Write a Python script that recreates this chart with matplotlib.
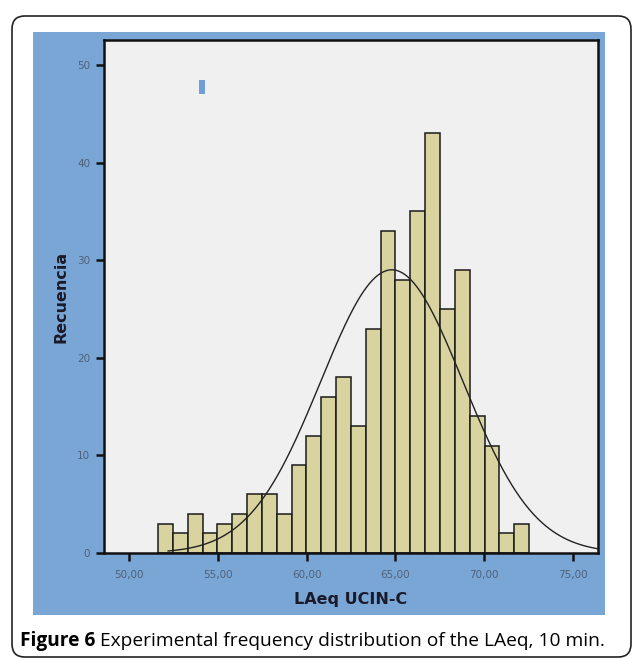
from matplotlib import pyplot as plt
from matplotlib.patches import FancyBboxPatch, Rectangle
import numpy as np

# -- Data -------------------------------------------------------------------

BIN_START = 51.63
BIN_WIDTH = 0.836
COUNTS = [3, 2, 4, 2, 3, 4, 6, 6, 4, 9, 12, 16, 18, 13, 23,
          33, 28, 35, 43, 25, 29, 14, 11, 2, 3]

# fitted normal curve
MEAN = 64.8
SD = 4.0
CURVE_FROM = 52.2

X_TICKS = [50, 55, 60, 65, 70, 75]
X_TICKLABELS = ['50,00', '55,00', '60,00', '65,00', '70,00', '75,00']
Y_TICKS = [0, 10, 20, 30, 40, 50]

PANEL = '#7aa6d6'
BAR = '#d9d39f'
TICKTXT = '#4f6078'

W, H = 633, 659

fig = plt.figure(figsize=(W / 100, H / 100), dpi=100)
fig.patch.set_facecolor('white')

# outer rounded frame
frame = FancyBboxPatch((12 / W, 1 - 657 / H), 619 / W, 641 / H,
                       boxstyle='round,pad=0,rounding_size=0.02',
                       transform=fig.transFigure, fill=False,
                       edgecolor='#222222', linewidth=1.2, zorder=-2)
fig.patches.append(frame)

# blue panel behind the plot
panel = Rectangle((33 / W, 1 - 615 / H), 572 / W, 583 / H,
                  transform=fig.transFigure, facecolor=PANEL,
                  edgecolor='none', zorder=-1)
fig.patches.append(panel)

ax = fig.add_axes([104 / W, 1 - 553 / H, 494 / W, 513 / H])
ax.set_facecolor('#f0f0f0')

# -- Histogram --------------------------------------------------------------

counts = np.array(COUNTS)
lefts = BIN_START + BIN_WIDTH * np.arange(len(counts))
ax.bar(lefts, counts, width=BIN_WIDTH, align='edge', color=BAR,
       edgecolor='#1a1a1a', linewidth=1.1, zorder=2)

# -- Normal curve -----------------------------------------------------------

n = counts.sum()
xs = np.linspace(CURVE_FROM, 76.4, 300)
ys = n * BIN_WIDTH / (SD * np.sqrt(2 * np.pi)) * \
    np.exp(-0.5 * ((xs - MEAN) / SD) ** 2)
ax.plot(xs, ys, color='#222222', linewidth=1.0, zorder=3)

# little blue marker left over from the legend
ax.add_patch(Rectangle((0.192, 0.895), 0.013, 0.027,
                       transform=ax.transAxes, facecolor='#6f9fd4',
                       edgecolor='none', zorder=4))

# -- Axes -------------------------------------------------------------------

ax.set_xlim(48.59, 76.41)
ax.set_ylim(0, 52.56)
ax.set_xticks(X_TICKS)
ax.set_xticklabels(X_TICKLABELS)
ax.set_yticks(Y_TICKS)
ax.tick_params(axis='both', direction='out', length=6, width=1.8,
               color='#111111', labelsize=7.5, labelcolor=TICKTXT)
ax.tick_params(axis='x', pad=6)
ax.tick_params(axis='y', pad=4)
for s in ax.spines.values():
    s.set_linewidth(1.8)
    s.set_color('#111111')

ax.set_ylabel('Recuencia', fontsize=11.5, fontweight='bold',
              color='#1a1a2a', labelpad=6)
ax.set_xlabel('LAeq UCIN-C', fontsize=11.5, fontweight='bold',
              color='#1a1a2a', labelpad=9)

# -- Caption ----------------------------------------------------------------

cap_y = 1 - 641 / H
t = fig.text(20 / W, cap_y, 'Figure 6', fontsize=13.8, fontweight='bold',
             family='Open Sans', va='center', ha='left')
fig.canvas.draw()
bb = t.get_window_extent()
fig.text((bb.x1 + 5) / W, cap_y,
         'Experimental frequency distribution of the LAeq, 10 min.',
         fontsize=13.8, family='Open Sans', va='center', ha='left')

fig.savefig('out.png', dpi=100)
